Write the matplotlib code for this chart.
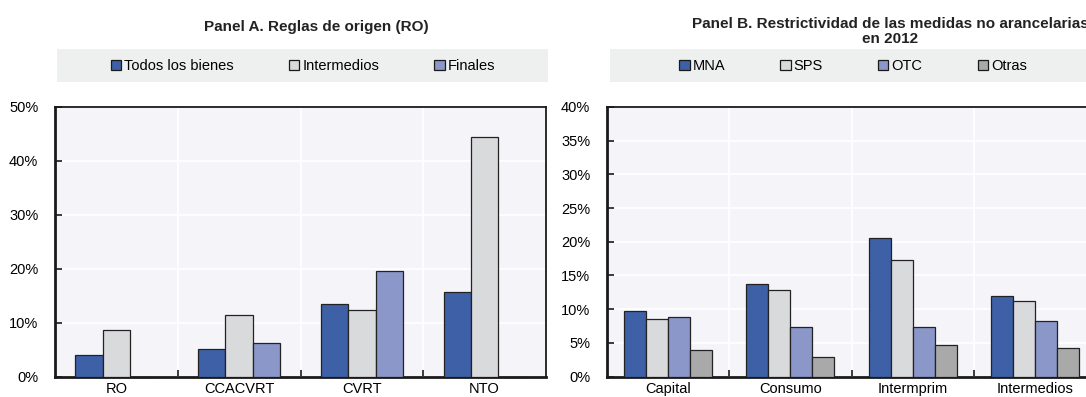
import numpy as np
import matplotlib
matplotlib.use("Agg")
import matplotlib.pyplot as plt
from matplotlib.patches import Rectangle, Patch

plt.rcParams["font.family"] = ["Liberation Sans", "DejaVu Sans"]

# Panel A data
cats_a = ["RO", "CCACVRT", "CVRT", "NTO"]
series_a = ["Todos los bienes", "Intermedios", "Finales"]
todos = [3.9, 5.1, 13.5, 15.6]
intermedios = [8.6, 11.4, 12.4, 44.4]
finales = [0.0, 6.3, 19.5, 0.0]

# Panel B data
cats_b = ["Capital", "Consumo", "Intermprim", "Intermedios"]
series_b = ["MNA", "SPS", "OTC", "Otras"]
mna = [9.7, 13.8, 20.5, 11.9]
sps = [8.6, 12.9, 17.3, 11.2]
otc = [8.8, 7.3, 7.4, 8.3]
otras = [4.0, 2.9, 4.65, 4.3]

W, H = 1086, 397
fig = plt.figure(figsize=(W / 100, H / 100), dpi=100)

colors_a = ["#3d60a7", "#d9dadc", "#8a97c8"]
colors_b = ["#3d60a7", "#d9dadc", "#8a97c8", "#a9a9a9"]
BG = "#f4f4f9"
LEG_BG = "#eef0f0"


def px(x0, y0, x1, y1):
    return [x0 / W, 1 - y1 / H, (x1 - x0) / W, (y1 - y0) / H]


def draw_panel(rect, cats, names, data, colors, ymax, ystep, group_frac):
    ax = fig.add_axes(rect)
    ax.set_facecolor(BG)
    n = len(data)
    x = np.arange(len(cats))
    w = group_frac / n
    for i, vals in enumerate(data):
        ax.bar(x - group_frac / 2 + w * (i + 0.5), vals, width=w, color=colors[i],
               edgecolor="#222222", linewidth=0.9, label=names[i], zorder=3)
    ax.set_xlim(-0.5, len(cats) - 0.5)
    ax.set_ylim(0, ymax)
    ax.set_yticks(np.arange(0, ymax + 0.01, ystep))
    ax.set_yticklabels([f"{int(v)}%" for v in np.arange(0, ymax + 0.01, ystep)])
    ax.set_xticks(x)
    ax.set_xticklabels(cats)
    ax.set_xticks(np.arange(0.5, len(cats) - 0.5, 1), minor=True)
    ax.tick_params(axis="x", which="major", length=0, pad=4, labelsize=10.5)
    ax.tick_params(axis="x", which="minor", direction="in", length=5, width=1.2, color="#1a1a1a")
    ax.tick_params(axis="y", direction="in", length=5, width=1.2, pad=12, labelsize=10.5,
                   color="#1a1a1a")
    ax.grid(True, axis="y", color="white", linewidth=1.2, zorder=0)
    ax.grid(True, axis="x", which="minor", color="white", linewidth=1.2, zorder=0)
    for s in ax.spines.values():
        s.set_color("#1a1a1a")
        s.set_linewidth(1.3)
    ax.spines["bottom"].set_linewidth(2.0)
    ax.spines["left"].set_linewidth(2.0)
    return ax


ax_a = draw_panel(px(55, 107, 546, 376.5), cats_a, series_a,
                  [todos, intermedios, finales], colors_a, 50, 10, 0.67)
ax_b = draw_panel(px(607, 107, 1096, 376.5), cats_b, series_b,
                  [mna, sps, otc, otras], colors_b, 40, 5, 0.72)

# legend backgrounds
fig.patches.append(Rectangle((57 / W, 1 - 82 / H), (548 - 57) / W, 33 / H,
                             transform=fig.transFigure, facecolor=LEG_BG, edgecolor="none"))
fig.patches.append(Rectangle((610 / W, 1 - 82 / H), (W - 610) / W, 33 / H,
                             transform=fig.transFigure, facecolor=LEG_BG, edgecolor="none"))

for ax, names, colors, cx in [(ax_a, series_a, colors_a, 303), (ax_b, series_b, colors_b, 853)]:
    handles = [Patch(facecolor=c, edgecolor="#1a1a1a", linewidth=0.9) for c in colors]
    fig.legend(handles, names, loc="center", bbox_to_anchor=(cx / W, 1 - 66 / H),
               ncol=len(names), frameon=False, fontsize=10.5, handlelength=0.7,
               handleheight=0.7, handletextpad=0.2, columnspacing=3.8, borderpad=0)

fig.text(316 / W, 1 - 27 / H, "Panel A. Reglas de origen (RO)", ha="center", va="center",
         fontsize=11, fontweight="bold", color="#222222")
fig.text(890 / W, 1 - 31.5 / H, "Panel B. Restrictividad de las medidas no arancelarias\nen 2012",
         ha="center", va="center", fontsize=11, fontweight="bold", color="#222222",
         linespacing=1.05)

fig.savefig("out.png", dpi=100)
